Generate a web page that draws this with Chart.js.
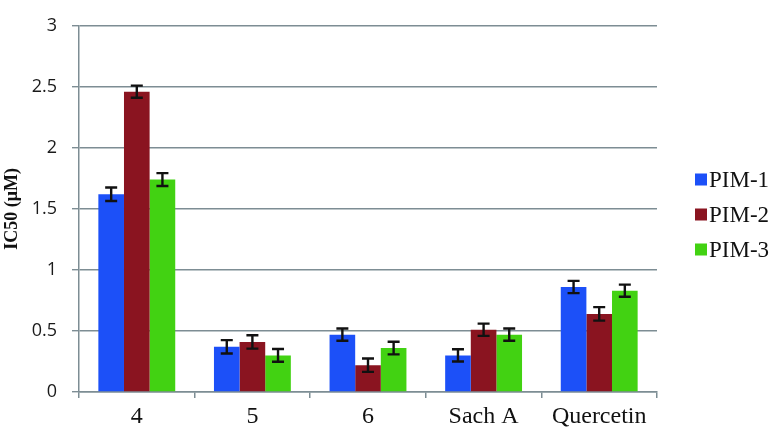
<!DOCTYPE html>
<html>
<head>
<meta charset="utf-8">
<script src="https://cdn.jsdelivr.net/npm/chart.js@4"></script>
<style>
  html, body { margin: 0; padding: 0; background: #fff; }
  #wrap { width: 774px; height: 430px; position: relative; }
</style>
</head>
<body>
<div id="wrap"><canvas id="c" width="774" height="430"></canvas></div>
<script>
const categories = ['4', '5', '6', 'Sach A', 'Quercetin'];
const seriesNames = ['PIM-1', 'PIM-2', 'PIM-3'];
const pim1 = [1.62, 0.37, 0.47, 0.30, 0.86];
const pim2 = [2.46, 0.41, 0.22, 0.51, 0.64];
const pim3 = [1.74, 0.30, 0.36, 0.47, 0.83];
const pim1Err = [0.055, 0.055, 0.05, 0.05, 0.05];
const pim2Err = [0.05, 0.055, 0.055, 0.05, 0.055];
const pim3Err = [0.053, 0.052, 0.052, 0.05, 0.05];
const yTicks = [0, 0.5, 1, 1.5, 2, 2.5, 3];
const yTickLabels = ['0', '0.5', '1', '1.5', '2', '2.5', '3'];
const yTitle = 'IC50 (\u03BCM)';

const colors = ['#1C50F8', '#8A1420', '#42D212'];
const gridColor = '#7D8D94';

const errorBarPlugin = {
  id: 'errorBars',
  afterDatasetsDraw(chart) {
    const ctx = chart.ctx;
    const y = chart.scales.y;
    ctx.save();
    ctx.strokeStyle = '#111';
    ctx.lineWidth = 2.4;
    chart.data.datasets.forEach((ds, di) => {
      const meta = chart.getDatasetMeta(di);
      meta.data.forEach((bar, i) => {
        const v = ds.data[i];
        const e = ds.errors[i];
        const yTop = y.getPixelForValue(v + e);
        const yBot = y.getPixelForValue(v - e);
        const x = bar.x;
        const hw = 6;
        ctx.beginPath();
        ctx.moveTo(x, yTop); ctx.lineTo(x, yBot);
        ctx.moveTo(x - hw, yTop); ctx.lineTo(x + hw, yTop);
        ctx.moveTo(x - hw, yBot); ctx.lineTo(x + hw, yBot);
        ctx.stroke();
      });
    });
    ctx.restore();
  }
};

const legendPlugin = {
  id: 'sideLegend',
  afterDraw(chart) {
    const ctx = chart.ctx;
    ctx.save();
    const x0 = 695, ys = [179.5, 214.5, 249.5], sz = 12;
    chart.data.datasets.forEach((ds, i) => {
      ctx.fillStyle = ds.backgroundColor;
      ctx.fillRect(x0, ys[i] - sz / 2, sz, sz);
      ctx.fillStyle = '#111';
      ctx.font = '23px "Liberation Serif", "Times New Roman", serif';
      ctx.textBaseline = 'middle';
      ctx.textAlign = 'left';
      ctx.fillText(ds.label, x0 + 14, ys[i] + 1);
    });
    ctx.restore();
  }
};

const seriesValues = [pim1, pim2, pim3];
const seriesErrors = [pim1Err, pim2Err, pim3Err];

new Chart(document.getElementById('c'), {
  type: 'bar',
  data: {
    labels: categories,
    datasets: seriesNames.map((n, i) => ({
      label: n,
      data: seriesValues[i],
      errors: seriesErrors[i],
      backgroundColor: colors[i],
      borderWidth: 0,
      categoryPercentage: 0.665,
      barPercentage: 1.0
    }))
  },
  options: {
    responsive: false,
    animation: false,
    devicePixelRatio: 1,
    layout: { padding: { top: 11, right: 117, bottom: 0, left: 0 } },
    plugins: { legend: { display: false }, tooltip: { enabled: false } },
    scales: {
      x: {
        offset: true,
        grid: { drawOnChartArea: false, drawTicks: true, tickLength: 6, color: gridColor, lineWidth: 1.5, offset: true },
        border: { color: gridColor, width: 1.5 },
        ticks: { color: '#111', padding: 4, font: { family: '"Liberation Serif", "Times New Roman", serif', size: 24 } },
        afterFit(s) { s.height = 38; }
      },
      y: {
        min: 0, max: 3,
        afterBuildTicks(s) { s.ticks = yTicks.map(v => ({ value: v })); },
        grid: { color: gridColor, lineWidth: 1.4, tickLength: 7, drawTicks: true },
        border: { color: gridColor, width: 1.5 },
        ticks: {
          color: '#1a1a1a', padding: 15,
          font: { family: '"Open Sans", sans-serif', size: 18 },
          callback: (v, i) => yTickLabels[i]
        },
        title: {
          display: true, text: yTitle, color: '#111',
          padding: { top: 2, bottom: 0 },
          font: { family: '"Liberation Serif", "Times New Roman", serif', size: 18, weight: 'bold' }
        },
        afterFit(s) { s.width = 79; }
      }
    }
  },
  plugins: [errorBarPlugin, legendPlugin]
});
</script>
</body>
</html>
